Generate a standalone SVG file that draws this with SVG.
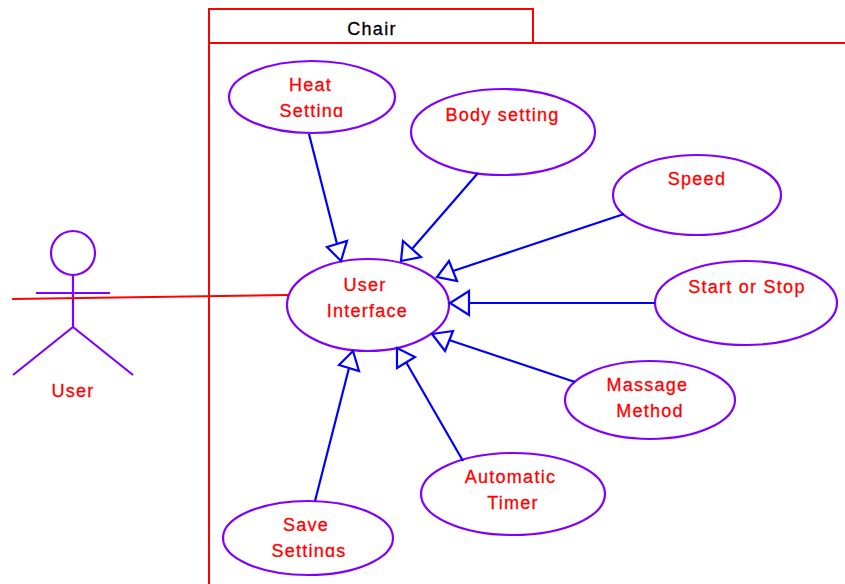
<svg xmlns="http://www.w3.org/2000/svg" width="845" height="584" viewBox="0 0 845 584">
<style>
text{font-family:"Liberation Sans",Arial,sans-serif;font-size:18px;letter-spacing:1.25px;text-anchor:middle;fill:#f00;stroke:#f00;stroke-width:.3px}
.u{fill:#fff;stroke:#7f00ff;stroke-width:2.2}
.a{fill:none;stroke:#7f00ff;stroke-width:2.2}
.c{fill:none;stroke:#00f;stroke-width:2.2}
.r{fill:none;stroke:#f00;stroke-width:2}
</style>
<defs>
<clipPath id="c1"><rect x="230" y="60" width="165" height="57"/></clipPath>
<clipPath id="c2"><rect x="225" y="500" width="165" height="57"/></clipPath>
</defs>
<g id="package">
<path class="r" d="M209 584V9H533V43"/>
<path class="r" d="M209 43H845"/>
<text x="372" y="35" style="fill:#000;stroke:#000">Chair</text>
</g>
<g id="actor-user">
<circle class="a" cx="73" cy="253" r="22"/>
<path class="a" d="M73 275V327M36 293H110M73 327L13 375M73 327L133 375"/>
<text x="73" y="397">User</text>
</g>
<g id="node-heat"><ellipse class="u" cx="312" cy="97" rx="83" ry="36"/>
<g clip-path="url(#c1)"><text x="310.500" y="91">Heat</text><text x="312" y="117">Setting</text></g></g>
<g id="node-body"><ellipse class="u" cx="503" cy="132" rx="92" ry="43"/><text x="502.500" y="121">Body setting</text></g>
<g id="node-speed"><ellipse class="u" cx="697" cy="195" rx="84" ry="40"/><text x="697" y="185">Speed</text></g>
<g id="node-start"><ellipse class="u" cx="746" cy="303" rx="91" ry="42"/><text x="747" y="293">Start or Stop</text></g>
<g id="node-massage"><ellipse class="u" cx="650" cy="400" rx="85" ry="39"/><text x="647.500" y="391">Massage</text><text x="650" y="417">Method</text></g>
<g id="node-timer"><ellipse class="u" cx="513" cy="494" rx="92" ry="41"/><text x="510.500" y="483">Automatic</text><text x="513" y="509">Timer</text></g>
<g id="node-save"><ellipse class="u" cx="308" cy="538" rx="85" ry="37"/>
<g clip-path="url(#c2)"><text x="306" y="531">Save</text><text x="309" y="557">Settings</text></g></g>
<g id="node-ui"><ellipse class="u" cx="368" cy="305" rx="81" ry="46"/><text x="365" y="291">User</text><text x="367.500" y="317">Interface</text></g>
<g id="connectors">
<path class="r" d="M12 299L288 295"/>
<path class="c" d="M309 134L337 244M327 247L347 241L341 261Z"/>
<path class="c" d="M478 173L412 249M403 241L421 257L401 261Z"/>
<path class="c" d="M624 214L453 271M449 261L457 281L437 277Z"/>
<path class="c" d="M655 303H469M469 291V315L450 303Z"/>
<path class="c" d="M575 382L449 340M453 331L445 351L432 334Z"/>
<path class="c" d="M463 461L406 362M415 357L397 368L397 348Z"/>
<path class="c" d="M315 501L349 368M339 365L359 371L353 351Z"/>
</g>
</svg>
